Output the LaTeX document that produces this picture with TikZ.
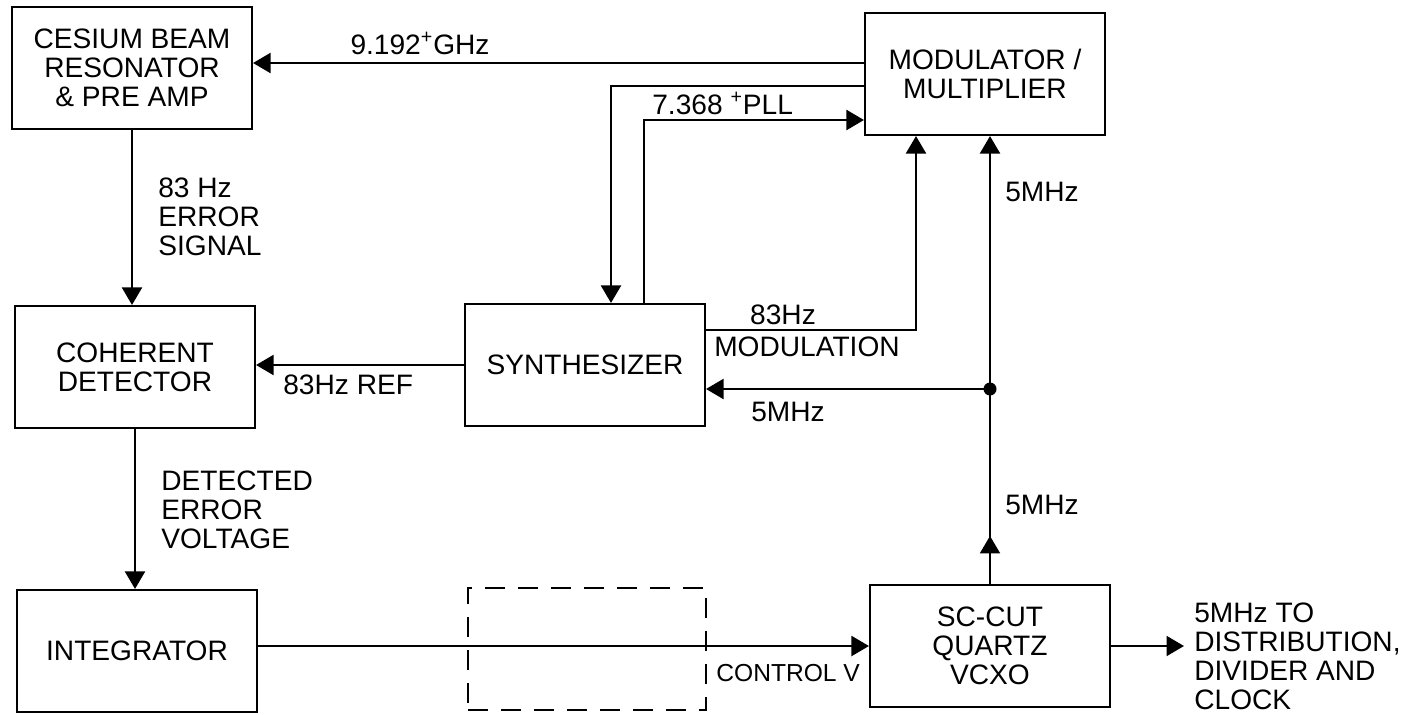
\documentclass[tikz,border=0pt]{standalone}
\usepackage{fontspec}
\setmainfont{Liberation Sans}
\usetikzlibrary{arrows.meta}

\begin{document}
\begin{tikzpicture}[
        >={Triangle[length=3.5mm, width=4mm]},
        block/.style={rectangle, draw, line width=1.2pt, minimum width=4.8cm, minimum height=2.44cm, align=center},
        ghost/.style={rectangle, draw, line width=1.1pt, dash pattern=on 4mm off 2.6mm, minimum width=4.76cm, minimum height=2.44cm},
        note/.style={inner sep=0pt, align=left},
        wire/.style={->, line width=1.2pt},
        every node/.style={font=\fontsize{16}{16.5}\selectfont}
      ]
      \useasboundingbox (0,0) rectangle (28.08,-14.28);
      % blocks
      \node[block] (ces) at (2.64,-1.36) {CESIUM BEAM\\RESONATOR\\\& PRE AMP};
      \node[block] (mod) at (19.70,-1.48) {MODULATOR /\\MULTIPLIER};
      \node[block] (coh) at (2.70,-7.34) {COHERENT\\DETECTOR};
      \node[block] (syn) at (11.70,-7.30) {SYNTHESIZER};
      \node[block] (int) at (2.74,-13.02) {INTEGRATOR};
      \node[ghost] (gap) at (11.74,-12.98) {};
      \node[block] (vcxo) at (19.80,-12.92) {SC-CUT\\QUARTZ\\VCXO};
      \node[note, anchor=west, inner sep=2mm] (out) at (23.68,-13.13) {5MHz TO\\DISTRIBUTION,\\DIVIDER AND\\CLOCK};
      % labels
      \node[note] (l9) at (8.40,-0.86) {9.192\textsuperscript{+}GHz};
      \node[note, anchor=west] (l7) at (13.04,-2.06) {7.368 \textsuperscript{+}PLL};
      \node[note, anchor=west] (lerr) at (3.16,-4.34) {83 Hz\\ERROR\\SIGNAL};
      \node[note, anchor=west] (ldet) at (3.22,-10.20) {DETECTED\\ERROR\\VOLTAGE};
      \node[note, anchor=west] (lref) at (5.66,-7.70) {83Hz REF};
      \node[note] (lmodf) at (15.66,-6.30) {83Hz};
      \node[note] (lmod) at (16.14,-6.94) {MODULATION};
      \node[note] (lsyn) at (15.76,-8.24) {5MHz};
      \node[note, anchor=west] (ltop) at (20.10,-3.84) {5MHz};
      \node[note, anchor=west] (lmid) at (20.10,-10.10) {5MHz};
      \node[note, anchor=west, font=\fontsize{14}{15}\selectfont] (lctl) at (14.32,-13.46) {CONTROL V};
      % helper points
      \coordinate (m1) at ([yshift=2.2mm]mod.west);
      \coordinate (s5) at ([yshift=-4.8mm]syn.east);
      \coordinate (tap) at (s5 -| vcxo.north);
      \coordinate (mid) at ([yshift=9.6mm]vcxo.north);
      % connectors
      \draw[wire] (m1) -- (m1 -| ces.east);
      \draw[wire] ([yshift=-2.4mm]mod.west) -| ([xshift=5.2mm]syn.north);
      \draw[wire] ([xshift=11.8mm]syn.north) |- ([yshift=-9.2mm]mod.west);
      \draw[wire] ([yshift=7mm]syn.east) -| ([xshift=-13.8mm]mod.south);
      \draw[wire] (vcxo.north) -- (vcxo.north |- mod.south);
      \draw[wire] (vcxo.north) -- (mid);
      \draw[wire] (tap) -- (s5);
      \fill (tap) circle (1.3mm);
      \draw[wire] (syn.west) -- (syn.west -| coh.east);
      \draw[wire] (ces.south) -- (ces.south |- coh.north);
      \draw[wire] (coh.south) -- (coh.south |- int.north);
      \draw[wire] (vcxo.west -| int.east) -- (vcxo.west);
      \draw[wire] (vcxo.east) -- (vcxo.east -| out.west);
    \end{tikzpicture}
\end{document}
